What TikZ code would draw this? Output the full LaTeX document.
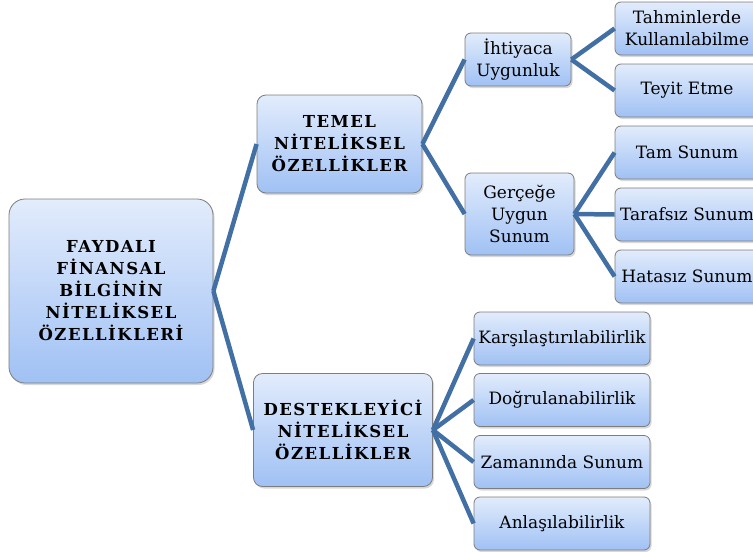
\documentclass[tikz,border=0pt]{standalone}
\usepackage{fontspec}
\setmainfont{DejaVu Serif}
\usetikzlibrary{shadows}

\definecolor{linkblue}{RGB}{66,112,164}
\definecolor{boxtop}{RGB}{226,236,252}
\definecolor{boxbottom}{RGB}{160,193,244}
\definecolor{boxedge}{RGB}{125,125,125}

\tikzset{
	box/.style={draw=boxedge, line width=0.8pt, rounded corners=6pt, top color=boxtop, bottom color=boxbottom, align=center, inner sep=2pt, drop shadow={shadow xshift=1.5pt, shadow yshift=-2pt, opacity=0.3}},
	headbox/.style={box, rounded corners=9pt, font=\rmfamily\bfseries\fontsize{16.5}{22}\selectfont\addfontfeature{LetterSpace=9}},
	leafbox/.style={box, font=\rmfamily\fontsize{17}{22}\selectfont, minimum height=53pt},
	link/.style={draw=linkblue, line width=4.5pt},
}

\begin{document}
\begin{tikzpicture}[x=1pt,y=-1pt]
	% Parameters
	\def\upleafx{687}
	\def\upleafw{144}
	\def\lowleafx{562}
	\def\lowleafw{176}
	
	%frame
	\fill[white] (0,0) rectangle (753,552);
	\useasboundingbox (0,0) rectangle (753,552);
	\clip (0,0) rectangle (753,552);
	
	%main boxes
	\node[headbox, rounded corners=16pt, minimum width=204pt, minimum height=184pt] (root) at (111,291) {FAYDALI\\FİNANSAL\\BİLGİNİN\\NİTELİKSEL\\ÖZELLİKLERİ};
	\node[headbox, minimum width=165pt, minimum height=98pt] (temel) at (339.5,144) {TEMEL\\NİTELİKSEL\\ÖZELLİKLER};
	\node[headbox, minimum width=179pt, minimum height=113pt] (destek) at (343,430) {DESTEKLEYİCİ\\NİTELİKSEL\\ÖZELLİKLER};
	
	%middle boxes
	\node[leafbox, minimum width=106pt] (ihtiyac) at (518,59.5) {İhtiyaca\\Uygunluk};
	\node[leafbox, minimum width=109pt, minimum height=82pt] (gercege) at (519.5,214) {Gerçeğe\\Uygun\\Sunum};
	
	%leaves upper
	\node[leafbox, minimum width=\upleafw pt] (tahmin) at (\upleafx,28.5) {Tahminlerde\\Kullanılabilme};
	\node[leafbox, minimum width=\upleafw pt] (teyit) at (\upleafx,90.5) {Teyit Etme};
	\node[leafbox, minimum width=\upleafw pt] (tam) at (\upleafx,152.5) {Tam Sunum};
	\node[leafbox, minimum width=\upleafw pt] (tarafsiz) at (\upleafx,214.5) {Tarafsız Sunum};
	\node[leafbox, minimum width=\upleafw pt] (hatasiz) at (\upleafx,276.5) {Hatasız Sunum};
	
	%leaves lower
	\node[leafbox, minimum width=\lowleafw pt] (karsi) at (\lowleafx,338.5) {Karşılaştırılabilirlik};
	\node[leafbox, minimum width=\lowleafw pt] (dogru) at (\lowleafx,400) {Doğrulanabilirlik};
	\node[leafbox, minimum width=\lowleafw pt] (zaman) at (\lowleafx,462) {Zamanında Sunum};
	\node[leafbox, minimum width=\lowleafw pt] (anlasi) at (\lowleafx,523.5) {Anlaşılabilirlik};
	
	%links
	\draw[link] (root.east) -- (temel.west);
	\draw[link] (root.east) -- (destek.west);
	\draw[link] (temel.east) -- (ihtiyac.west);
	\draw[link] (temel.east) -- (gercege.west);
	\draw[link] (ihtiyac.east) -- (tahmin.west);
	\draw[link] (ihtiyac.east) -- (teyit.west);
	\draw[link] (gercege.east) -- (tam.west);
	\draw[link] (gercege.east) -- (tarafsiz.west);
	\draw[link] (gercege.east) -- (hatasiz.west);
	\draw[link] (destek.east) -- (karsi.west);
	\draw[link] (destek.east) -- (dogru.west);
	\draw[link] (destek.east) -- (zaman.west);
	\draw[link] (destek.east) -- (anlasi.west);
\end{tikzpicture}
\end{document}
